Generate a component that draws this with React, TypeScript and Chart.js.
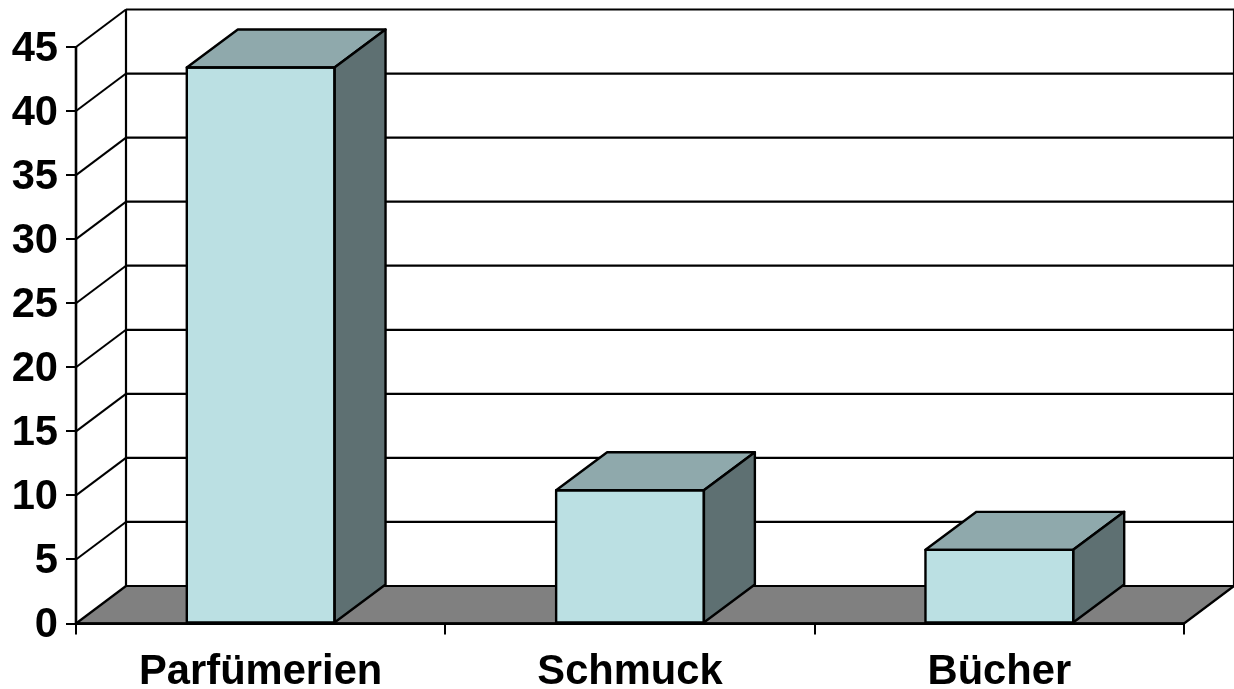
import React, { useEffect, useRef } from "react";
import { Chart, registerables } from "chart.js";

Chart.register(...registerables);

const categories = ["Parfümerien", "Schmuck", "Bücher"];
const values = [43.4, 10.4, 5.75];
const yTicks = [0, 5, 10, 15, 20, 25, 30, 35, 40, 45];

const FRONT = "#BBE0E3";
const TOP = "#8FA9AC";
const SIDE = "#5E7072";
const FLOOR = "#808080";
const WALL_DX = 50;
const WALL_DY = -37.5;
const BAR_DX = 51;
const BAR_DY = -38;

function poly(ctx: CanvasRenderingContext2D, pts: number[][], fill: string | null, lw = 2.4) {
  ctx.beginPath();
  pts.forEach(([x, y], i) => (i ? ctx.lineTo(x, y) : ctx.moveTo(x, y)));
  ctx.closePath();
  if (fill) {
    ctx.fillStyle = fill;
    ctx.fill();
  }
  ctx.lineWidth = lw;
  ctx.strokeStyle = "#000";
  ctx.lineJoin = "round";
  ctx.stroke();
}

function line(ctx: CanvasRenderingContext2D, pts: number[][], lw: number) {
  ctx.beginPath();
  pts.forEach(([x, y], i) => (i ? ctx.lineTo(x, y) : ctx.moveTo(x, y)));
  ctx.lineWidth = lw;
  ctx.strokeStyle = "#000";
  ctx.stroke();
}

const threeD = {
  id: "threeD",
  beforeDatasetsDraw(chart: any) {
    const ctx = chart.ctx as CanvasRenderingContext2D;
    const { left, right } = chart.chartArea;
    const y = chart.scales.y;
    const y0 = y.getPixelForValue(0);
    ctx.save();
    poly(ctx, [
      [left, y0],
      [left + WALL_DX, y0 + WALL_DY],
      [right + WALL_DX, y0 + WALL_DY],
      [right, y0],
    ], FLOOR, 2.2);
    yTicks.forEach((t) => {
      const py = y.getPixelForValue(t);
      if (t > 0) {
        line(ctx, [[left, py], [left + WALL_DX, py + WALL_DY]], 2);
      }
      line(ctx, [[left + WALL_DX, py + WALL_DY], [right + WALL_DX, py + WALL_DY]], 2.2);
    });
    const yTop = y.getPixelForValue(45) + WALL_DY;
    line(ctx, [[left + WALL_DX, y0 + WALL_DY], [left + WALL_DX, yTop]], 2.2);
    line(ctx, [[right + WALL_DX, y0 + WALL_DY], [right + WALL_DX, yTop]], 2.2);
    ctx.restore();
  },
  afterDatasetsDraw(chart: any) {
    const ctx = chart.ctx as CanvasRenderingContext2D;
    const meta = chart.getDatasetMeta(0);
    ctx.save();
    meta.data.forEach((bar: any) => {
      const { x, y, width, base } = bar.getProps(["x", "y", "width", "base"], true);
      const l = x - width / 2;
      const r = x + width / 2;
      poly(ctx, [[l, y], [l + BAR_DX, y + BAR_DY], [r + BAR_DX, y + BAR_DY], [r, y]], TOP);
      poly(ctx, [[r, y], [r + BAR_DX, y + BAR_DY], [r + BAR_DX, base + BAR_DY], [r, base]], SIDE);
      poly(ctx, [[l, y], [r, y], [r, base], [l, base]], null);
    });
    line(ctx, [[chart.chartArea.left, chart.chartArea.bottom], [chart.chartArea.right, chart.chartArea.bottom]], 2.6);
    line(ctx, [[chart.chartArea.left, chart.chartArea.top], [chart.chartArea.left, chart.chartArea.bottom]], 2.6);
    ctx.restore();
  },
};

const shiftLabels = (dy: number) => (s: any) => {
  if (s.__shifted) return;
  s.__shifted = true;
  const orig = s.getLabelItems.bind(s);
  s.getLabelItems = (area: any) =>
    orig(area).map((item: any) => ({ ...item, textOffset: item.textOffset + dy }));
};

export default function App() {
  const ref = useRef<HTMLCanvasElement | null>(null);
  useEffect(() => {
    const chart = new Chart(ref.current!, {
      type: "bar",
      data: {
        labels: categories,
        datasets: [
          {
            data: values,
            backgroundColor: FRONT,
            borderColor: "#000",
            borderWidth: 0,
            barPercentage: 0.4,
            categoryPercentage: 1,
          },
        ],
      },
      options: {
        animation: false,
        responsive: false,
        devicePixelRatio: 1,
        layout: { padding: { top: 47, right: 50, left: 0, bottom: 0 } },
        plugins: { legend: { display: false }, tooltip: { enabled: false } },
        scales: {
          x: {
            offset: true,
            afterFit: (s: any) => { s.height = 65.5; },
            afterUpdate: shiftLabels(3),
            border: { color: "#000", width: 2 },
            grid: { drawOnChartArea: false, drawTicks: true, tickLength: 11, color: "#000", lineWidth: 2, offset: true },
            ticks: { color: "#000", padding: 10, font: { family: "'Liberation Sans'", weight: "bold", size: 41.7 }, maxRotation: 0 },
          },
          y: {
            min: 0,
            max: 45,
            afterFit: (s: any) => { s.width = 76; },
            afterUpdate: shiftLabels(2.5),
            border: { color: "#000", width: 2 },
            grid: { drawOnChartArea: false, drawTicks: true, tickLength: 10, color: "#000", lineWidth: 2 },
            ticks: { color: "#000", stepSize: 5, padding: 8, font: { family: "'Liberation Sans'", weight: "bold", size: 41.7 } },
          },
        },
      },
      plugins: [threeD],
    } as any);
    return () => chart.destroy();
  }, []);
  return (
    <div style={{ position: "absolute", left: 0, top: 0, width: 1234, height: 689, background: "#fff" }}>
      <canvas ref={ref} width={1234} height={689} style={{ display: "block" }} />
    </div>
  );
}
